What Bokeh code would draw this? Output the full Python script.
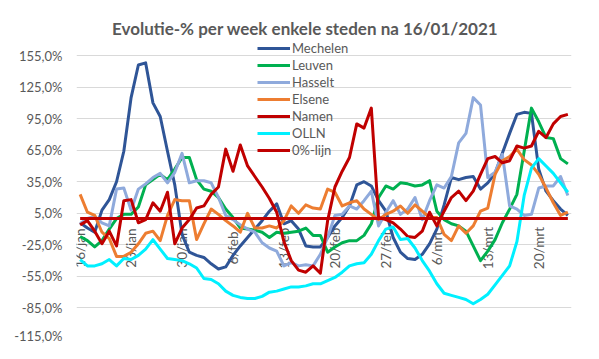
from math import pi
from bokeh.plotting import figure
from bokeh.models import Range1d, FixedTicker, CustomJSTickFormatter, Legend, LegendItem
from bokeh.core.properties import value
from bokeh.embed import file_html
from bokeh.resources import INLINE

# 68 days: 16/01/2021 .. 24/03/2021 (index = day number)
day_index = list(range(68))
tick_pos = [0, 7, 14, 21, 28, 35, 42, 49, 56, 63]
tick_labels = ["16/jan", "23/jan", "30/jan", "6/feb", "13/feb", "20/feb",
               "27/feb", "6/mrt", "13/mrt", "20/mrt"]
y_ticks = [-115, -85, -55, -25, 5, 35, 65, 95, 125, 155]

mechelen = [-4, -9, -13, 8, 18, 35, 64, 115, 146, 148, 110, 97, 64, 32, -15, -32,
            -35, -37, -43, -48, -46, -35, -26, -18, -10, -2, 7, 14, -5, -2, -10, -26,
            -27, -27, -18, -7, 1, 12, 32, 35, 31, 17, 7, -18, -32, -38, -39, -34,
            -24, -10, 13, 39, 37, 39, 40, 28, 34, 43, 62, 81, 99, 101, 100, 47,
            26, 17, 9, 3]
leuven = [-17, -21, -27, -21, -10, 0, 4, 4, 11, 32, 37, 42, 37, 47, 58, 58,
          37, 28, 26, 20, 9, 1, -9, -10, -11, -13, -18, -13, -14, -13, -12, -9,
          -16, -16, -32, -27, -23, -21, -21, -16, -5, 20, 31, 28, 34, 33, 31, 32,
          36, 7, -1, -5, -7, -12, -26, -40, -31, -20, -4, 9, 23, 64, 105, 92,
          77, 76, 57, 52]
hasselt = [-5, 0, 2, -4, -7, 28, 29, 8, 28, 33, 39, 43, 34, 44, 62, 34,
           36, 36, 34, 20, 3, -1, -6, -10, -13, -23, -28, -31, -45, -42, -45, -44,
           -45, -34, -18, 3, 4, 12, 9, 17, 26, -7, 6, 17, 4, 9, 20, -1,
           17, 32, 29, 40, 72, 81, 115, 108, 39, 44, 61, 12, 9, 3, 4, 29,
           31, 31, 40, 22]
elsene = [23, 6, 3, -13, -19, -36, -36, -32, -24, -14, -12, -21, 3, 18, 17, 17,
          -20, -5, 9, 4, -2, -7, -13, 5, -9, -9, -7, -9, -2, 12, 5, 13,
          10, 9, 28, 25, 12, 15, 17, 9, 4, -1, 4, 7, 12, 5, 13, 7,
          1, 1, -15, -21, -7, -14, -7, 7, 10, 42, 55, 59, 66, 56, 51, 42,
          29, 15, 3, 6]
namen = [-6, -2, -12, -24, -12, -26, 17, 18, -4, -1, 15, 7, 25, -24, -9, -1,
         10, 12, 23, 30, 66, 45, 70, 50, 40, 30, 19, 6, -22, -40, -49, -51,
         -45, -52, -2, 30, 45, 58, 90, 86, 105, 1, -1, -4, -10, -17, -18, -12,
         6, -7, 7, 20, 26, 17, 26, 42, 57, 59, 53, 55, 69, 67, 69, 83,
         77, 90, 97, 99]
olln = [-39, -45, -45, -43, -39, -45, -38, -39, -35, -29, -20, -29, -38, -39, -40, -43,
        -47, -57, -58, -62, -69, -73, -75, -76, -76, -74, -70, -69, -67, -65, -65, -64,
        -62, -62, -59, -56, -51, -45, -43, -42, -34, -21, -10, -8, -20, -19, -28, -40,
        -50, -62, -71, -73, -75, -77, -81, -77, -72, -63, -54, -45, -22, 22, 48, 57,
        50, 43, 34, 25]
zero_line = [0] * 68

names = ["Mechelen", "Leuven", "Hasselt", "Elsene", "Namen", "OLLN", "0%-lijn"]
series = [mechelen, leuven, hasselt, elsene, namen, olln, zero_line]
colors = ["#2F5597", "#00B050", "#8FAADC", "#ED7D31", "#C00000", "#00F0FF", "#C00000"]

FONT = "Lato"
GREY = "#595959"

p = figure(width=583, height=343, output_backend="svg", toolbar_location=None,
           x_range=Range1d(-0.5, 67.5), y_range=Range1d(-115, 171.2),
           min_border_left=76, min_border_right=12, min_border_top=38,
           min_border_bottom=4)
p.background_fill_color = "white"
p.border_fill_color = "white"
p.outline_line_color = None

p.title.text = "Evolutie-% per week enkele steden na 16/01/2021"
p.title.align = "left"
p.title.offset = 35.5
p.title.standoff = 0
p.title.text_font = FONT
p.title.text_font_style = "bold"
p.title.text_font_size = "17px"
p.title.text_color = GREY

p.xaxis.visible = False
p.xgrid.grid_line_color = None
p.ygrid.grid_line_color = "#D9D9D9"
p.ygrid.grid_line_width = 1

ya = p.yaxis[0]
ya.ticker = FixedTicker(ticks=y_ticks)
ya.formatter = CustomJSTickFormatter(code="return tick.toFixed(1).replace('.', ',') + '%';")
ya.axis_line_color = None
ya.major_tick_line_color = None
ya.minor_tick_line_color = None
ya.major_tick_in = 0
ya.major_tick_out = 0
ya.major_label_standoff = 14
ya.major_label_text_font = FONT
ya.major_label_text_font_size = "13px"
ya.major_label_text_color = GREY

# category labels next to the 0-axis, rotated
p.text(x=tick_pos, y=[0] * len(tick_pos), text=tick_labels, angle=pi / 2,
       text_align="center", text_baseline="middle", y_offset=29.5,
       text_font=value(FONT), text_font_size="13.5px", text_color=GREY)

items = []
for name, data, col in zip(names, series, colors):
    r = p.line(day_index, data, line_color=col, line_width=3, line_join="round")
    items.append(LegendItem(label=name, renderers=[r]))

legend = Legend(items=items, location=(181, 181), padding=0, spacing=1,
                glyph_width=33, glyph_height=16, label_height=16, label_standoff=2,
                label_text_font=FONT, label_text_font_size="13px",
                label_text_color=GREY, background_fill_alpha=0,
                border_line_color=None, margin=0)
p.add_layout(legend)

open("out.html", "w").write(file_html(p, INLINE))
